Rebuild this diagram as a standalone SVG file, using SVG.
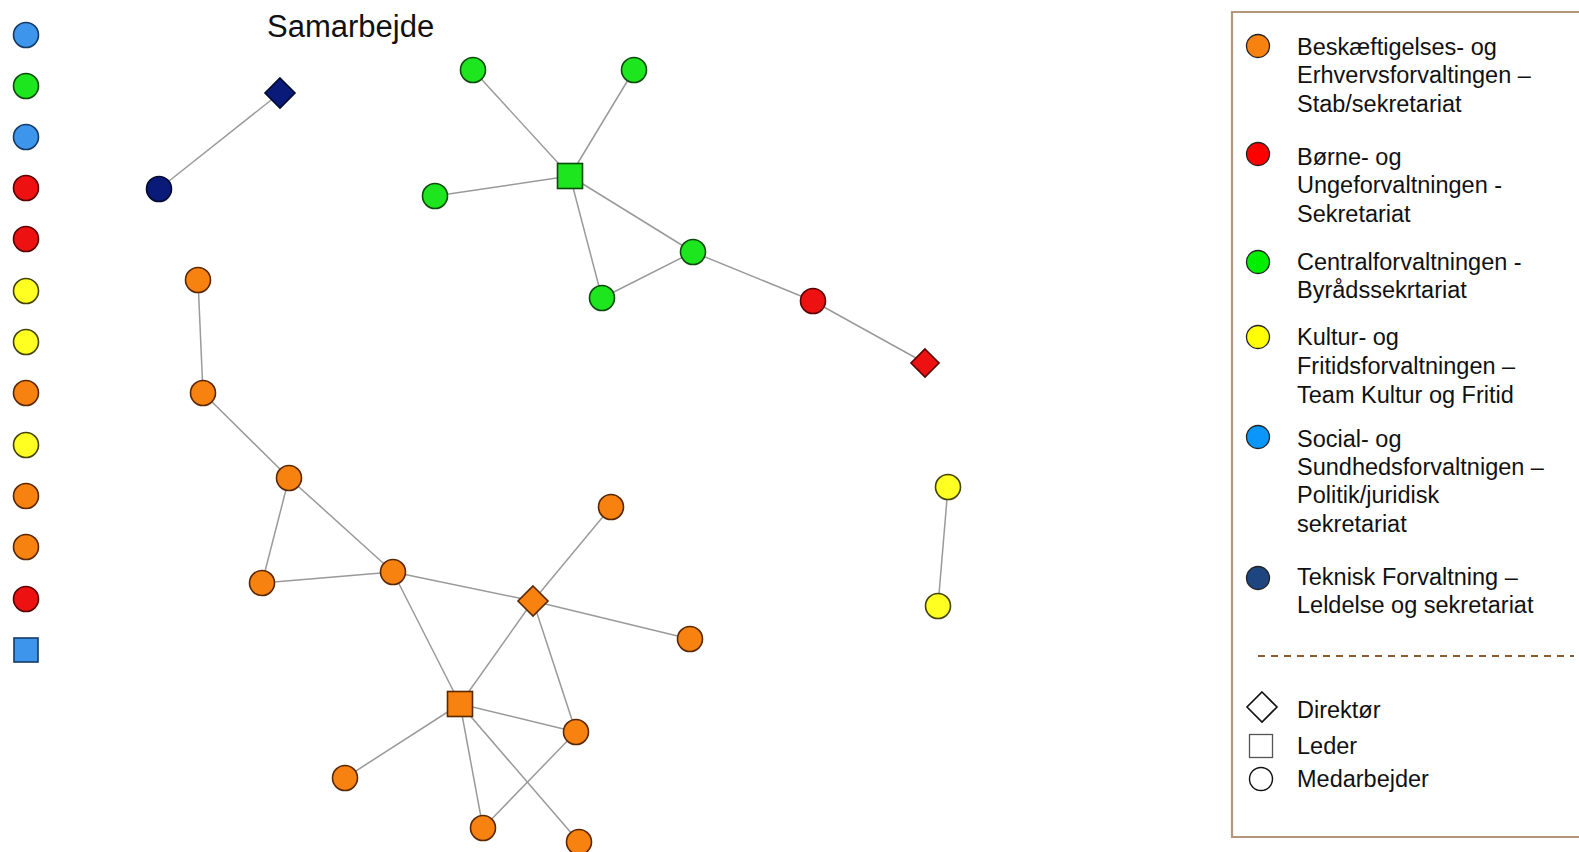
<svg xmlns="http://www.w3.org/2000/svg" width="1579" height="852" viewBox="0 0 1579 852">
<style>
text{font-family:"Liberation Sans",Arial,sans-serif;fill:#111}
.lg{font-size:23.5px}
.e{stroke:#9a9a9a;stroke-width:1.5;fill:none}
.n{stroke-width:1.6}
.or{fill:#f7820f;stroke:#5a2800}
.gr{fill:#1ee61e;stroke:#0b4a0b}
.rd{fill:#ee1111;stroke:#5a0000}
.ye{fill:#ffff22;stroke:#444400}
.bl{fill:#3d96ec;stroke:#153a66}
.nv{fill:#0a1a78;stroke:#020a30}
</style>
<rect width="1579" height="852" fill="#ffffff"/>
<text x="267" y="37" style="font-size:31px">Samarbejde</text>

<g id="isolates">
<circle class="n bl" cx="26" cy="35" r="12.5"/>
<circle class="n gr" cx="26" cy="86" r="12.5"/>
<circle class="n bl" cx="26" cy="137" r="12.5"/>
<circle class="n rd" cx="26" cy="188" r="12.5"/>
<circle class="n rd" cx="26" cy="239" r="12.5"/>
<circle class="n ye" cx="26" cy="291" r="12.5"/>
<circle class="n ye" cx="26" cy="342" r="12.5"/>
<circle class="n or" cx="26" cy="393" r="12.5"/>
<circle class="n ye" cx="26" cy="445" r="12.5"/>
<circle class="n or" cx="26" cy="496" r="12.5"/>
<circle class="n or" cx="26" cy="547" r="12.5"/>
<circle class="n rd" cx="26" cy="599" r="12.5"/>
<rect class="n bl" x="14" y="638" width="24" height="24"/>
</g>

<g id="connectors">
<line class="e" x1="280" y1="93" x2="159" y2="189"/>
<line class="e" x1="473" y1="70" x2="570" y2="176"/>
<line class="e" x1="634" y1="70" x2="570" y2="176"/>
<line class="e" x1="435" y1="196" x2="570" y2="176"/>
<line class="e" x1="570" y1="176" x2="693" y2="252"/>
<line class="e" x1="570" y1="176" x2="602" y2="298"/>
<line class="e" x1="602" y1="298" x2="693" y2="252"/>
<line class="e" x1="693" y1="252" x2="813" y2="301"/>
<line class="e" x1="813" y1="301" x2="925" y2="363"/>
<line class="e" x1="948" y1="487" x2="938" y2="606"/>
<line class="e" x1="198" y1="280" x2="203" y2="393"/>
<line class="e" x1="203" y1="393" x2="289" y2="478"/>
<line class="e" x1="289" y1="478" x2="262" y2="583"/>
<line class="e" x1="289" y1="478" x2="393" y2="572"/>
<line class="e" x1="262" y1="583" x2="393" y2="572"/>
<line class="e" x1="393" y1="572" x2="533" y2="601"/>
<line class="e" x1="393" y1="572" x2="460" y2="704"/>
<line class="e" x1="533" y1="601" x2="611" y2="507"/>
<line class="e" x1="533" y1="601" x2="690" y2="639"/>
<line class="e" x1="533" y1="601" x2="460" y2="704"/>
<line class="e" x1="533" y1="601" x2="576" y2="732"/>
<line class="e" x1="460" y1="704" x2="576" y2="732"/>
<line class="e" x1="460" y1="704" x2="345" y2="778"/>
<line class="e" x1="460" y1="704" x2="483" y2="828"/>
<line class="e" x1="460" y1="704" x2="579" y2="842"/>
<line class="e" x1="576" y1="732" x2="483" y2="828"/>
</g>

<g id="navy-director"><polygon class="n nv" points="280,78 295,93 280,108 265,93"/></g>
<g id="navy-staff"><circle class="n nv" cx="159" cy="189" r="12.5"/></g>

<g id="green-leader"><rect class="n gr" x="557.5" y="163.5" width="25" height="25"/></g>
<g id="green-1"><circle class="n gr" cx="473" cy="70" r="12.5"/></g>
<g id="green-2"><circle class="n gr" cx="634" cy="70" r="12.5"/></g>
<g id="green-3"><circle class="n gr" cx="435" cy="196" r="12.5"/></g>
<g id="green-4"><circle class="n gr" cx="693" cy="252" r="12.5"/></g>
<g id="green-5"><circle class="n gr" cx="602" cy="298" r="12.5"/></g>
<g id="red-staff"><circle class="n rd" cx="813" cy="301" r="12.5"/></g>
<g id="red-director"><polygon class="n rd" points="925,349 939,363 925,377 911,363"/></g>

<g id="yellow-1"><circle class="n ye" cx="948" cy="487" r="12.5"/></g>
<g id="yellow-2"><circle class="n ye" cx="938" cy="606" r="12.5"/></g>

<g id="orange-1"><circle class="n or" cx="198" cy="280" r="12.5"/></g>
<g id="orange-2"><circle class="n or" cx="203" cy="393" r="12.5"/></g>
<g id="orange-3"><circle class="n or" cx="289" cy="478" r="12.5"/></g>
<g id="orange-4"><circle class="n or" cx="262" cy="583" r="12.5"/></g>
<g id="orange-5"><circle class="n or" cx="393" cy="572" r="12.5"/></g>
<g id="orange-director"><polygon class="n or" points="533,586 548,601 533,616 518,601"/></g>
<g id="orange-6"><circle class="n or" cx="611" cy="507" r="12.5"/></g>
<g id="orange-7"><circle class="n or" cx="690" cy="639" r="12.5"/></g>
<g id="orange-leader"><rect class="n or" x="447.5" y="691.5" width="25" height="25"/></g>
<g id="orange-8"><circle class="n or" cx="576" cy="732" r="12.5"/></g>
<g id="orange-9"><circle class="n or" cx="345" cy="778" r="12.5"/></g>
<g id="orange-10"><circle class="n or" cx="483" cy="828" r="12.5"/></g>
<g id="orange-11"><circle class="n or" cx="579" cy="842" r="12.5"/></g>

<g id="legend">
<path d="M1600,12 H1232 V837 H1600" fill="none" stroke="#b4977a" stroke-width="2.2"/>
<circle cx="1258" cy="46" r="11.5" fill="#f7820f" stroke="#222" stroke-width="1.3"/>
<text class="lg" x="1297" y="55">Beskæftigelses- og</text>
<text class="lg" x="1297" y="83">Erhvervsforvaltingen –</text>
<text class="lg" x="1297" y="112">Stab/sekretariat</text>
<circle cx="1258" cy="154" r="11.5" fill="#ff0000" stroke="#222" stroke-width="1.3"/>
<text class="lg" x="1297" y="165">Børne- og</text>
<text class="lg" x="1297" y="193">Ungeforvaltningen -</text>
<text class="lg" x="1297" y="222">Sekretariat</text>
<circle cx="1258" cy="262" r="11.5" fill="#00ee00" stroke="#222" stroke-width="1.3"/>
<text class="lg" x="1297" y="270">Centralforvaltningen -</text>
<text class="lg" x="1297" y="298">Byrådssekrtariat</text>
<circle cx="1258" cy="337" r="11.5" fill="#ffff00" stroke="#222" stroke-width="1.3"/>
<text class="lg" x="1297" y="345">Kultur- og</text>
<text class="lg" x="1297" y="374">Fritidsforvaltningen –</text>
<text class="lg" x="1297" y="403">Team Kultur og Fritid</text>
<circle cx="1258" cy="437" r="11.5" fill="#0a96fa" stroke="#222" stroke-width="1.3"/>
<text class="lg" x="1297" y="447">Social- og</text>
<text class="lg" x="1297" y="475">Sundhedsforvaltnigen –</text>
<text class="lg" x="1297" y="503">Politik/juridisk</text>
<text class="lg" x="1297" y="532">sekretariat</text>
<circle cx="1258" cy="578" r="11.5" fill="#1f4580" stroke="#222" stroke-width="1.3"/>
<text class="lg" x="1297" y="585">Teknisk Forvaltning –</text>
<text class="lg" x="1297" y="613">Leldelse og sekretariat</text>
<line x1="1258" y1="656" x2="1574" y2="656" stroke="#8a5a30" stroke-width="2" stroke-dasharray="7,6"/>
<polygon points="1262,692 1277,707 1262,722 1247,707" fill="#fff" stroke="#111" stroke-width="1.6"/>
<text class="lg" x="1297" y="718">Direktør</text>
<rect x="1249.5" y="734.5" width="23" height="23" fill="#fff" stroke="#555" stroke-width="1.3"/>
<text class="lg" x="1297" y="754">Leder</text>
<circle cx="1261" cy="779" r="11.5" fill="#fff" stroke="#111" stroke-width="1.4"/>
<text class="lg" x="1297" y="787">Medarbejder</text>
</g>
</svg>
